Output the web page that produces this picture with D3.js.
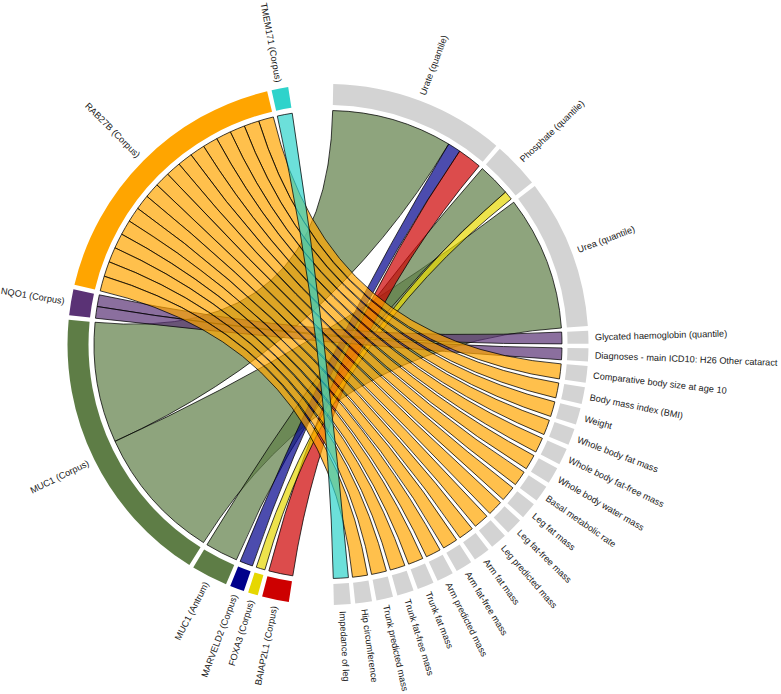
<!DOCTYPE html>
<html>
<head>
<meta charset="utf-8">
<script src="https://cdn.jsdelivr.net/npm/d3@7"></script>
<style>
  body { margin: 0; background: #ffffff; }
  svg { display: block; }
</style>
</head>
<body>
<svg id="chart" width="781" height="694"></svg>
<script>
// ---------- data ----------
const genes = [
  "BAIAP2L1 (Corpus)", "FOXA3 (Corpus)", "MARVELD2 (Corpus)", "MUC1 (Antrum)",
  "MUC1 (Corpus)", "NQO1 (Corpus)", "RAB27B (Corpus)", "TMEM171 (Corpus)"
];
const geneColors = [
  "#CD0000", "#E6D700", "#00008B", "#5E7D46",
  "#5E7D46", "#5A3275", "#FFA500", "#2ED3CB"
];
const traits = [
  "Urate (quantile)", "Phosphate (quantile)", "Urea (quantile)",
  "Glycated haemoglobin (quantile)", "Diagnoses - main ICD10: H26 Other cataract",
  "Comparative body size at age 10", "Body mass index (BMI)", "Weight",
  "Whole body fat mass", "Whole body fat-free mass", "Whole body water mass",
  "Basal metabolic rate", "Leg fat mass", "Leg fat-free mass", "Leg predicted mass",
  "Arm fat mass", "Arm fat-free mass", "Arm predicted mass", "Trunk fat mass",
  "Trunk fat-free mass", "Trunk predicted mass", "Hip circumference", "Impedance of leg"
];
const traitColor = "#D3D3D3";

const linkFrom = [
  "MUC1 (Corpus)", "MUC1 (Corpus)", "MUC1 (Antrum)", "MARVELD2 (Corpus)",
  "BAIAP2L1 (Corpus)", "FOXA3 (Corpus)", "NQO1 (Corpus)", "NQO1 (Corpus)",
  "RAB27B (Corpus)", "RAB27B (Corpus)", "RAB27B (Corpus)", "RAB27B (Corpus)",
  "RAB27B (Corpus)", "RAB27B (Corpus)", "RAB27B (Corpus)", "RAB27B (Corpus)",
  "RAB27B (Corpus)", "RAB27B (Corpus)", "RAB27B (Corpus)", "RAB27B (Corpus)",
  "RAB27B (Corpus)", "RAB27B (Corpus)", "RAB27B (Corpus)", "RAB27B (Corpus)",
  "RAB27B (Corpus)", "TMEM171 (Corpus)"
];
const linkTo = [
  "Urate (quantile)", "Urea (quantile)", "Phosphate (quantile)", "Urate (quantile)",
  "Urate (quantile)", "Phosphate (quantile)", "Glycated haemoglobin (quantile)",
  "Diagnoses - main ICD10: H26 Other cataract",
  "Comparative body size at age 10", "Body mass index (BMI)", "Weight",
  "Whole body fat mass", "Whole body fat-free mass", "Whole body water mass",
  "Basal metabolic rate", "Leg fat mass", "Leg fat-free mass", "Leg predicted mass",
  "Arm fat mass", "Arm fat-free mass", "Arm predicted mass", "Trunk fat mass",
  "Trunk fat-free mass", "Trunk predicted mass", "Hip circumference", "Impedance of leg"
];
const linkValue = [
  29.9, 33.4, 8.1, 3.2,
  6.0, 2.2, 2.9, 2.9,
  3.72, 3.72, 3.72, 3.72,
  3.72, 3.72, 3.72, 3.72,
  3.72, 3.72, 3.72, 3.72,
  3.72, 3.72, 3.72, 3.72,
  3.72, 3.72
];

// ---------- layout ----------
const W = 781, H = 694;
const cx = 328, cy = 344.5;
const ribbonR = 234, trackIn = 239.5, trackOut = 260.5, labelR = 267;
const startDeg = 1.15, smallGap = 1;

const sectors = traits.map(n => ({name: n, color: traitColor, side: "trait"}))
  .concat(genes.map((n, i) => ({name: n, color: geneColors[i], side: "gene"})));
const byName = new Map(sectors.map(s => [s.name, s]));
sectors.forEach(s => { s.total = 0; s.ends = []; });
const links = linkValue.map((v, i) => ({from: linkFrom[i], to: linkTo[i], value: v, color: geneColors[genes.indexOf(linkFrom[i])]}));
links.forEach(l => { byName.get(l.from).total += l.value; byName.get(l.to).total += l.value; });

const total = d3.sum(linkValue);
const bigGap = (360 - 2 * total - (sectors.length - 2) * smallGap) / 2;
const scale = d3.scaleLinear().domain([0, 1]).range([0, 1]); // degrees per unit

let a = startDeg;
sectors.forEach((s, i) => {
  s.start = a;
  s.end = a + scale(s.total);
  s.mid = (s.start + s.end) / 2;
  const nextIsSwitch = (i === traits.length - 1) || (i === sectors.length - 1);
  a = s.end + (nextIsSwitch ? bigGap : smallGap);
});

// link ends within each sector, ordered so ribbons do not twist
links.forEach(l => {
  byName.get(l.from).ends.push({link: l, other: byName.get(l.to), role: "source"});
  byName.get(l.to).ends.push({link: l, other: byName.get(l.from), role: "target"});
});
sectors.forEach(s => {
  s.ends.sort((p, q) => {
    const kp = ((p.other.mid - s.mid) % 360 + 360) % 360;
    const kq = ((q.other.mid - s.mid) % 360 + 360) % 360;
    return kq - kp;
  });
  let b = s.start;
  s.ends.forEach(e => {
    const e0 = b, e1 = b + scale(e.link.value);
    e.link[e.role] = {startAngle: e0 * Math.PI / 180, endAngle: e1 * Math.PI / 180, radius: ribbonR};
    b = e1;
  });
});

// ---------- draw ----------
const svg = d3.select("#chart");
svg.append("rect").attr("width", W).attr("height", H).attr("fill", "#ffffff");
const g = svg.append("g").attr("transform", `translate(${cx},${cy})`);

const ribbon = d3.ribbon();
g.append("g").selectAll("path").data(links).join("path")
  .attr("d", d => ribbon(d))
  .attr("fill", d => d.color)
  .attr("fill-opacity", 0.7)
  .attr("stroke", "#000000")
  .attr("stroke-width", 0.75);

const arc = d3.arc().innerRadius(trackIn).outerRadius(trackOut);
g.append("g").selectAll("path").data(sectors).join("path")
  .attr("d", d => arc({startAngle: d.start * Math.PI / 180, endAngle: d.end * Math.PI / 180}))
  .attr("fill", d => d.color);

g.append("g").selectAll("text").data(sectors).join("text")
  .attr("transform", d => {
    const base = `rotate(${d.mid - 90}) translate(${labelR},0)`;
    return d.mid < 180 ? base : base + " rotate(180)";
  })
  .attr("text-anchor", d => d.mid < 180 ? "start" : "end")
  .attr("dy", "0.35em")
  .attr("font-family", "'Liberation Sans', Arial, Helvetica, sans-serif")
  .attr("font-size", "9.2px")
  .attr("fill", "#1a1a1a")
  .text(d => d.name);
</script>
</body>
</html>
